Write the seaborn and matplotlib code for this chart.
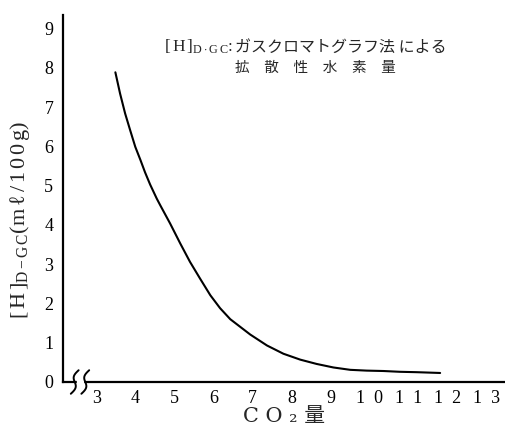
import numpy as np
import pandas as pd
import matplotlib
matplotlib.use("Agg")
import matplotlib.pyplot as plt
import seaborn as sns
from matplotlib.offsetbox import TextArea, HPacker, AnchoredOffsetbox

# data
co2 = [3.49, 3.61, 3.74, 3.87, 4.00, 4.13, 4.25, 4.38, 4.55, 4.64, 4.89, 5.15, 5.40,
       5.66, 5.92, 6.17, 6.43, 6.77, 6.94, 7.37, 7.79, 8.22, 8.64, 9.07, 9.50, 9.92,
       10.35, 10.77, 11.20, 11.80]
h_dgc = [7.89, 7.35, 6.84, 6.41, 5.99, 5.66, 5.34, 5.03, 4.67, 4.50, 4.04, 3.53, 3.06,
         2.63, 2.21, 1.88, 1.60, 1.34, 1.21, 0.93, 0.72, 0.57, 0.46, 0.37, 0.31, 0.29,
         0.28, 0.26, 0.25, 0.23]
x_ticks = [3, 4, 5, 6, 7, 8, 9, 10, 11, 12, 13]
x_tick_labels = ["3", "4", "5", "6", "7", "8", "9", "1  0", "1  1", "1  2", "1  3"]
y_ticks = [0, 1, 2, 3, 4, 5, 6, 7, 8, 9]
y_tick_labels = ["0", "1", "2", "3", "4", "5", "6", "7", "8", "9"]

sns.set_style("white")
plt.rcParams["font.family"] = ["Liberation Serif", "Noto Sans CJK JP", "DejaVu Sans"]
plt.rcParams["mathtext.fontset"] = "custom"
plt.rcParams["mathtext.rm"] = "Liberation Serif"
plt.rcParams["mathtext.it"] = "Liberation Serif"

df = pd.DataFrame({"co2": co2, "h": h_dgc})

fig = plt.figure(figsize=(5.05, 4.26), dpi=100)
ax = fig.add_axes([63 / 505, 44 / 426, 442 / 505, 367 / 426])
sns.lineplot(data=df, x="co2", y="h", ax=ax, color="black", linewidth=1.5)

ax.set_xlim(2.15, 13.46)
ax.set_ylim(0, 9.35)
for s in ["top", "right"]:
    ax.spines[s].set_visible(False)
for s in ["left", "bottom"]:
    ax.spines[s].set_linewidth(1.6)
    ax.spines[s].set_color("black")

ax.set_xticks(x_ticks)
ax.set_xticklabels(x_tick_labels)
ax.set_yticks(y_ticks)
ax.set_yticklabels(y_tick_labels)
ax.tick_params(axis="both", direction="in", length=6, width=1.6, colors="black",
               labelsize=13)
ax.tick_params(axis="x", pad=6)
ax.tick_params(axis="y", pad=7)

ax.set_xlabel("C O ₂ 量", fontsize=15, family=["DejaVu Serif", "Noto Sans CJK JP"],
              labelpad=0)
ax.set_ylabel(r"$[\,\mathrm{H}\,]_{\mathrm{D-G\,C}}(\mathrm{m}\,\ell\,/\,1\,0\,0\,\mathrm{g})$",
              fontsize=16)
ax.yaxis.set_label_coords(-0.07, 0.44)

# annotation
part1 = TextArea(r"$[\,\mathrm{H}\,]_{\mathrm{D\cdot G\,C}}$:",
                 textprops=dict(fontsize=12.5, family="Liberation Serif"))
part2 = TextArea("ガスクロマトグラフ法 による",
                 textprops=dict(fontsize=11.5, family="Noto Sans CJK JP"))
line1 = HPacker(children=[part1, part2], align="baseline", pad=0, sep=2)
ab = AnchoredOffsetbox(loc="center", child=line1, frameon=False,
                       bbox_to_anchor=(0.548, 0.913), bbox_transform=ax.transAxes,
                       borderpad=0, pad=0)
ax.add_artist(ab)
ax.text(0.572, 0.855, "拡　散　性　水　素　量", transform=ax.transAxes,
        ha="center", va="center", fontsize=10.5, family=["Noto Sans CJK JP"])

# axis break marks
t = np.linspace(-1, 1, 50)
for x0 in [2.45, 2.72]:
    xs = x0 + 0.10 * t - 0.07 * np.sin(np.pi * t)
    ys = 0.3 * t
    ax.plot(xs, ys, color="black", lw=1.4, clip_on=False, zorder=5)
ax.fill_between([2.5, 2.67], -0.05, 0.05, color="white", clip_on=False, zorder=4)

fig.savefig("out.png", dpi=100)
